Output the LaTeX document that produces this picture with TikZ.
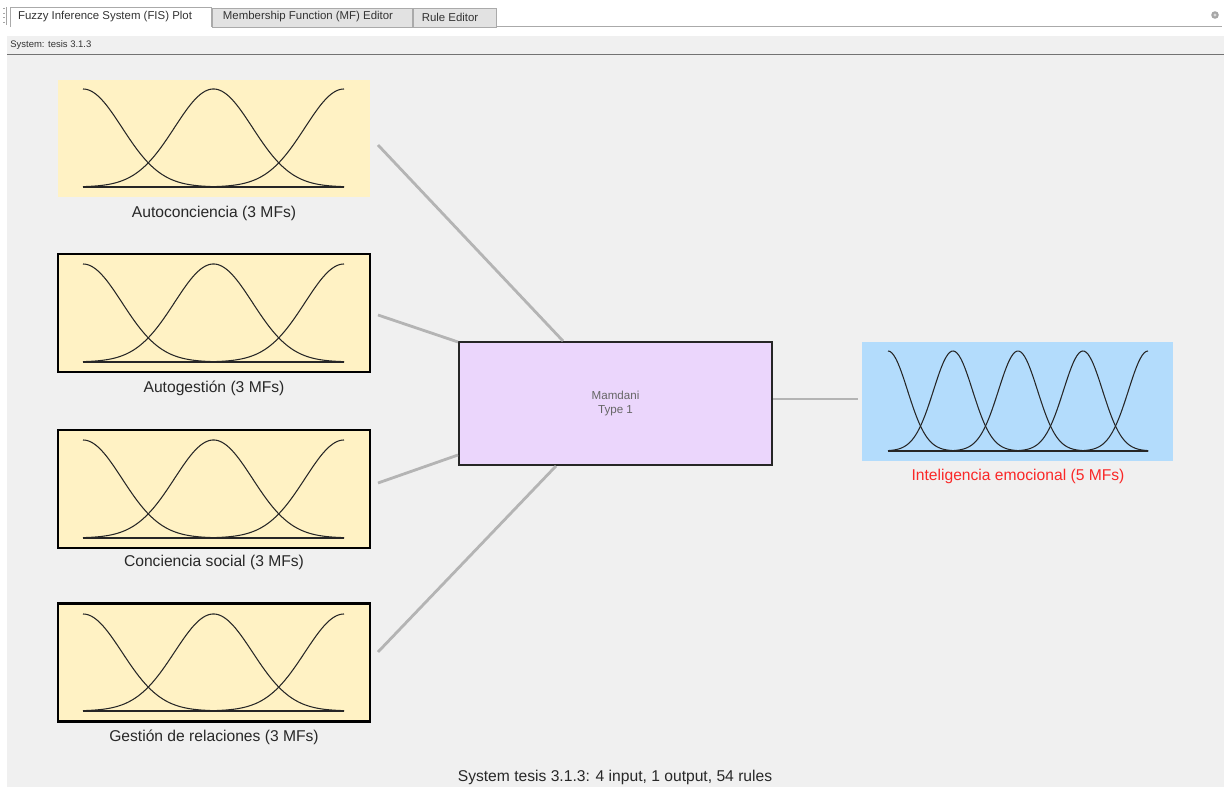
\documentclass[tikz,border=0pt]{standalone}
\usepackage{fontspec}
\setmainfont{Liberation Sans}
\definecolor{panelgray}{RGB}{240,240,240}
\definecolor{tabgray}{RGB}{226,226,226}
\definecolor{tabedge}{RGB}{170,170,170}
\definecolor{inyellow}{RGB}{255,242,196}
\definecolor{mampurple}{RGB}{235,214,252}
\definecolor{outblue}{RGB}{179,220,252}
\definecolor{linkgray}{RGB}{180,180,180}
\definecolor{mfred}{RGB}{250,40,40}
\definecolor{textdark}{RGB}{40,40,40}
\newcommand{\drawMFs}[6]{%
  \pgfmathsetmacro{\mfsp}{(#2-#1)/(#5-1)}%
  \draw[mfline] (#1,#3) -- (#2,#3);
  \foreach \k in {1,...,#5}{%
    \pgfmathsetmacro{\mfc}{#1+(\k-1)*\mfsp}%
    \draw[mfline] plot[domain=#1:#2,samples=140,smooth] (\x,{#3-#4*exp(-0.5*((\x-\mfc)/(#6))^2)});
  }%
}
\tikzset{
  inbox/.style={rectangle, fill=inyellow, draw=black, line width=1.2pt, minimum width=6.24cm, minimum height=2.36cm, inner sep=0pt},
  mambox/.style={rectangle, fill=mampurple, draw=black!85, line width=1.2pt, minimum width=6.26cm, minimum height=2.46cm, inner sep=0pt, align=center, font=\fontsize{6.6}{8}\selectfont, text=black!60},
  outbox/.style={rectangle, fill=outblue, draw=none, minimum width=6.22cm, minimum height=2.38cm, inner sep=0pt},
  lbl/.style={font=\fontsize{8.9}{10}\selectfont, text=textdark, inner sep=0pt},
  tabtxt/.style={font=\fontsize{6.5}{7}\selectfont, text=black!80, inner sep=0pt},
  link/.style={draw=linkgray, line width=1.6pt},
  mfline/.style={draw=black!85, line width=0.6pt},
}
\begin{document}
\begin{tikzpicture}[x=0.02cm,y=-0.02cm]
\useasboundingbox (0,0) rectangle (1228,787);
\fill[white] (0,0) rectangle (1228,787);
% tab bar
\draw[black!35, line width=0.6pt, dotted] (4,8) -- (4,24);
\draw[black!35, line width=0.5pt] (6,7) -- (6,25);
\filldraw[fill=white, draw=tabedge, line width=0.4pt] (10,27) -- (10,7) -- (211,7) -- (211,27);
\node[tabtxt] (tab1) at (105,17) {Fuzzy Inference System (FIS) Plot};
\filldraw[fill=tabgray, draw=tabedge, line width=0.4pt] (212,27) rectangle (412,8);
\node[tabtxt] (tab2) at (308,17) {Membership Function (MF) Editor};
\filldraw[fill=tabgray, draw=tabedge, line width=0.4pt] (413,27) rectangle (496,8);
\node[tabtxt] (tab3) at (450,17) {Rule Editor};
\draw[tabedge, line width=0.5pt] (496,26.5) -- (1222,26.5);
\fill[black!35] (1215,15) circle (3.8);
\fill[white!85!black] (1215,15) circle (1.6);
% panel
\fill[panelgray] (7,36) rectangle (1224,787);
\node[tabtxt, font=\fontsize{5.4}{6}\selectfont, anchor=west] (sys) at (10,45) {System: tesis 3.1.3};
\draw[black!55, line width=1pt] (7,54.5) -- (1224,54.5);
% input boxes
\node[inbox, draw=none] (in1) at (214,138.5) {};
\node[inbox] (in2) at (214,313) {};
\node[inbox] (in3) at (214,489) {};
\node[inbox] (in4) at (214,662.5) {};
\drawMFs{83}{344}{187}{98}{3}{39}
\drawMFs{83}{344}{362}{98}{3}{39}
\drawMFs{83}{344}{538}{98}{3}{39}
\drawMFs{83}{344}{711}{97}{3}{39}
\node[lbl] (l1) at (214,213) {Autoconciencia (3 MFs)};
\node[lbl] (l2) at (214,388) {Autogestión (3 MFs)};
\node[lbl] (l3) at (214,562) {Conciencia social (3 MFs)};
\node[lbl] (l4) at (214,737) {Gestión de relaciones (3 MFs)};
% center
\node[mambox] (mam) at (615.5,403.5) {Mamdani\\Type 1};
% output
\node[outbox] (out) at (1017.5,401.5) {};
\drawMFs{888}{1148}{451}{100}{5}{19.5}
\node[lbl, text=mfred] (lo) at (1018,476) {Inteligencia emocional (5 MFs)};
% connectors
\coordinate (a1) at (378,145); \coordinate (b1) at (563,341);
\coordinate (a2) at (378,315); \coordinate (b2) at (458,342);
\coordinate (a3) at (378,483); \coordinate (b3) at (458,455);
\coordinate (a4) at (378,652); \coordinate (b4) at (556,466);
\coordinate (a5) at (773,399); \coordinate (b5) at (858,399);
\draw[link] (a1) -- (b1);
\draw[link] (a2) -- (b2);
\draw[link] (a3) -- (b3);
\draw[link] (a4) -- (b4);
\draw[link] (a5) -- (b5);
\node[lbl] (foot) at (615,777) {System tesis 3.1.3: 4 input, 1 output, 54 rules};
\end{tikzpicture}
\end{document}
